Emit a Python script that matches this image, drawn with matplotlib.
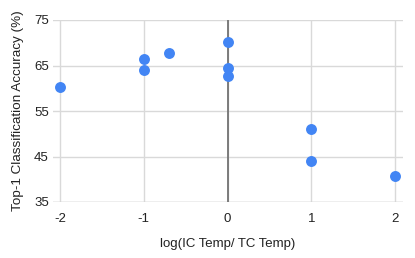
import matplotlib
matplotlib.use("Agg")
import matplotlib.pyplot as plt

x_vals = [-2, -1, -1, -0.7, 0, 0, 0, 1, 1, 2]
y_vals = [60.3, 66.4, 64.1, 67.8, 70.1, 64.4, 62.8, 51.1, 44.1, 40.8]
x_ticks = [-2, -1, 0, 1, 2]
y_ticks = [35, 45, 55, 65, 75]

plt.rcParams['font.family'] = ['Liberation Sans', 'DejaVu Sans']

fig = plt.figure(figsize=(4.15, 2.58), dpi=100)
ax = fig.add_axes([53/415, 1-202/258, 350/415, 182/258])
ax.set_xlim(-2 - 7/83.75, 2 + 8/83.75)
ax.set_ylim(35, 75)
ax.set_xticks(x_ticks)
ax.set_xticklabels([str(t) for t in x_ticks])
ax.set_yticks(y_ticks)
ax.grid(True, color='#d9d9d9', linewidth=1.0)
ax.set_axisbelow(True)
for s in ax.spines.values():
    s.set_visible(False)
ax.axhline(35, color='#cccccc', linewidth=1.0, zorder=1)
ax.axvline(0, color='#737373', linewidth=1.3, zorder=1.5)
ax.tick_params(length=0, labelsize=9.5, colors='#222222')
ax.tick_params(axis='x', pad=8)
ax.tick_params(axis='y', pad=3)
ax.scatter(x_vals, y_vals, s=62, color='#4285F4', zorder=3, linewidths=0)
ax.set_xlabel('log(IC Temp/ TC Temp)', fontsize=9.5, color='#222222', labelpad=9)
ax.set_ylabel('Top-1 Classification Accuracy (%)', fontsize=9.7, color='#222222', labelpad=7)
fig.savefig('out.png', dpi=100)
